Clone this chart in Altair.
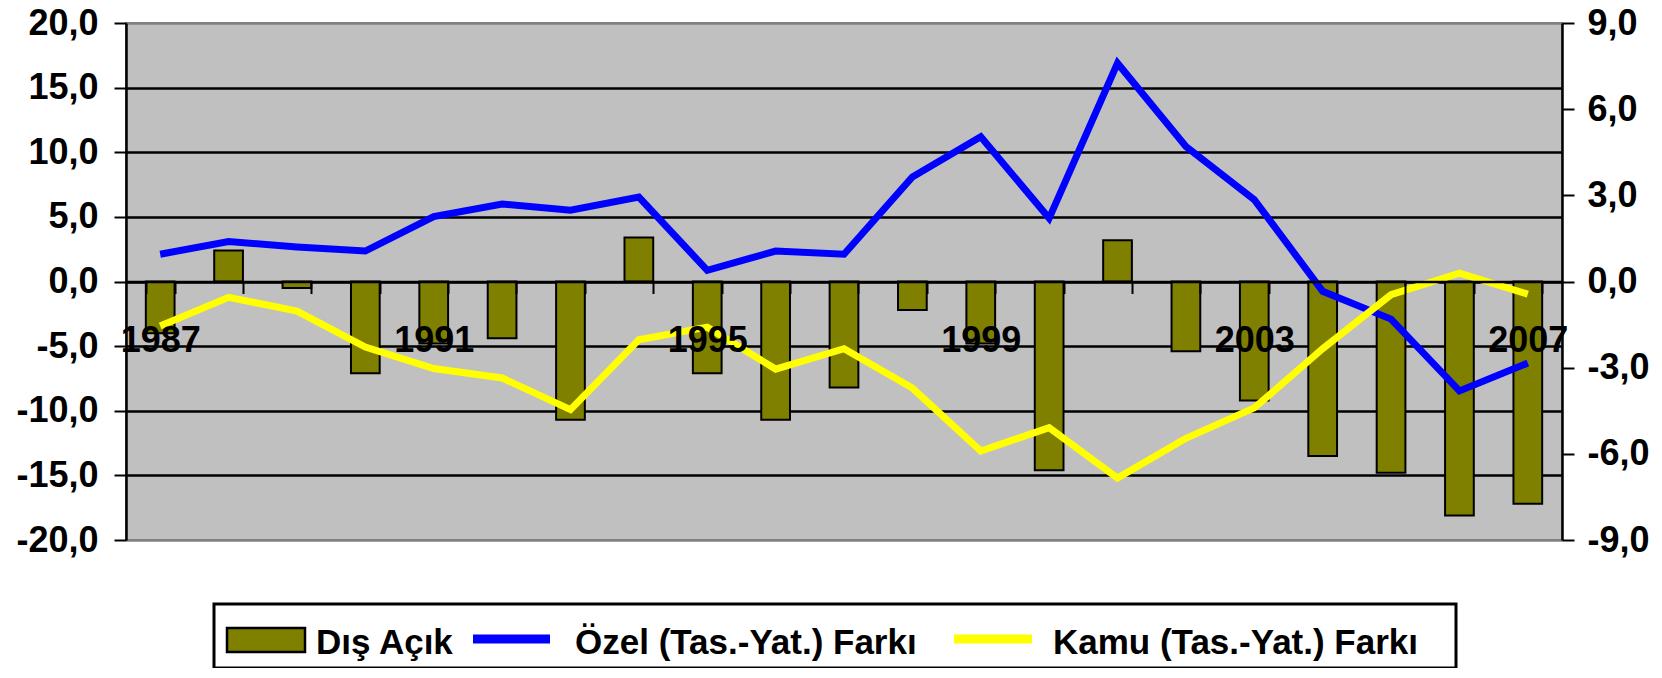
import altair as alt
import pandas as pd

# ---------------- data ----------------
years = [str(y) for y in range(1987, 2008)]
dis_acik = [-4.0, 2.4, -0.5, -7.1, -4.8, -4.4, -10.7, 3.4, -7.1, -10.7, -8.2,
            -2.2, -4.8, -14.6, 3.2, -5.4, -9.2, -13.5, -14.8, -18.1, -17.2]
ozel = [0.95, 1.39, 1.2, 1.06, 2.26, 2.7, 2.48, 2.94, 0.39, 1.06, 0.95,
        3.64, 5.04, 2.2, 7.6, 4.7, 2.85, -0.34, -1.31, -3.81, -2.84]
kamu = [-1.55, -0.55, -1.03, -2.28, -3.03, -3.36, -4.46, -2.03, -1.59, -3.05, -2.34,
        -3.71, -5.9, -5.09, -6.84, -5.46, -4.4, -2.34, -0.46, 0.29, -0.44]
series = ["Dış Açık", "Özel (Tas.-Yat.) Farkı", "Kamu (Tas.-Yat.) Farkı"]
colors = ["#808000", "#0000FF", "#FFFF00"]
shown_years = ["1987", "1991", "1995", "1999", "2003", "2007"]
left_ticks = [-20, -15, -10, -5, 0, 5, 10, 15, 20]
right_ticks = [-9, -6, -3, 0, 3, 6, 9]

bar_df = pd.DataFrame({"year": years, "value": dis_acik, "series": series[0]})
line_df = pd.concat([
    pd.DataFrame({"year": years, "value": ozel, "series": series[1]}),
    pd.DataFrame({"year": years, "value": kamu, "series": series[2]}),
], ignore_index=True)
one = pd.DataFrame({"k": [0]})

FONT = "Liberation Sans"
W, H = 1436, 517
TOP = 15
dy = TOP - 14  # keep legend at the same page position

color_scale = alt.Scale(domain=series, range=colors)
label_fmt = "replace((datum.value < 0 ? '-' : '') + format(abs(datum.value), '.1f'), '.', ',')"
year_expr = "indexof([" + ",".join("'" + y + "'" for y in shown_years) + "], datum.label) >= 0 ? datum.label : ''"

x_enc = alt.X(
    "year:O",
    sort=years,
    scale=alt.Scale(paddingInner=0.58, paddingOuter=0.29),
    axis=alt.Axis(
        title=None, orient="bottom", offset=-H / 2, tickBand="extent",
        tickSize=12, tickWidth=2, tickColor="black",
        domainColor="black", domainWidth=2.5,
        labelExpr=year_expr, labelOverlap=False, labelFlush=False,
        labelAngle=0, labelPadding=30, labelFontSize=36,
        labelFont=FONT, labelFontWeight="bold", labelColor="black",
        grid=False, zindex=1,
    ),
)

bars = alt.Chart(bar_df).mark_bar(stroke="black", strokeWidth=2).encode(
    x=x_enc,
    y=alt.Y(
        "value:Q",
        scale=alt.Scale(domain=[-20, 20], nice=False, zero=False),
        axis=alt.Axis(
            title=None, orient="left", values=left_ticks, labelExpr=label_fmt,
            tickSize=12, tickWidth=2, tickColor="black",
            domainColor="black", domainWidth=2.5,
            grid=True, gridWidth=2.5,
            gridColor={"condition": {"test": "abs(datum.value) == 20", "value": "#808080"}, "value": "black"},
            labelFontSize=36, labelFont=FONT, labelFontWeight="bold", labelColor="black",
            labelPadding=16, zindex=0,
        ),
    ),
    color=alt.Color("series:N", scale=color_scale, legend=None),
)

lines = alt.Chart(line_df).mark_line(strokeWidth=7).encode(
    x=alt.X("year:O", sort=years),
    y=alt.Y(
        "value:Q",
        scale=alt.Scale(domain=[-9, 9], nice=False, zero=False),
        axis=alt.Axis(
            title=None, orient="right", values=right_ticks, labelExpr=label_fmt,
            tickSize=12, tickWidth=2, tickColor="black",
            domainColor="black", domainWidth=2.5, grid=False,
            labelFontSize=36, labelFont=FONT, labelFontWeight="bold", labelColor="black",
            labelPadding=13,
        ),
    ),
    color=alt.Color("series:N", scale=color_scale, legend=None),
)

# ---------------- manual legend ----------------
legend_box = alt.Chart(one).mark_rect(fill="white", stroke="black", strokeWidth=3).encode(
    x=alt.value(88), x2=alt.value(1330), y=alt.value(582 - dy), y2=alt.value(646 - dy)
)
sym_bar = alt.Chart(one).mark_rect(fill=colors[0], stroke="black", strokeWidth=2.5).encode(
    x=alt.value(101), x2=alt.value(179), y=alt.value(606 - dy), y2=alt.value(630 - dy)
)
sym_ozel = alt.Chart(one).mark_rule(color=colors[1], strokeWidth=9).encode(
    x=alt.value(347), x2=alt.value(424), y=alt.value(617 - dy)
)
sym_kamu = alt.Chart(one).mark_rule(color=colors[2], strokeWidth=9).encode(
    x=alt.value(828), x2=alt.value(906), y=alt.value(617 - dy)
)
text_x = [190, 449, 927]
texts = [
    alt.Chart(one).mark_text(
        align="left", baseline="alphabetic", font=FONT, fontWeight="bold",
        fontSize=35, color="black", text=s,
    ).encode(x=alt.value(tx), y=alt.value(632 - dy))
    for s, tx in zip(series, text_x)
]

chart = alt.layer(
    bars, lines, legend_box, sym_bar, sym_ozel, sym_kamu, *texts
).resolve_scale(y="independent").properties(
    width=W, height=H,
    autosize=alt.AutoSizeParams(type="none"),
    padding={"left": 118, "top": TOP, "right": 92, "bottom": 128},
).configure_view(fill="#C0C0C0", stroke="#808080", strokeWidth=2)

chart.save("out.html", embed_options={"renderer": "svg", "actions": False})
